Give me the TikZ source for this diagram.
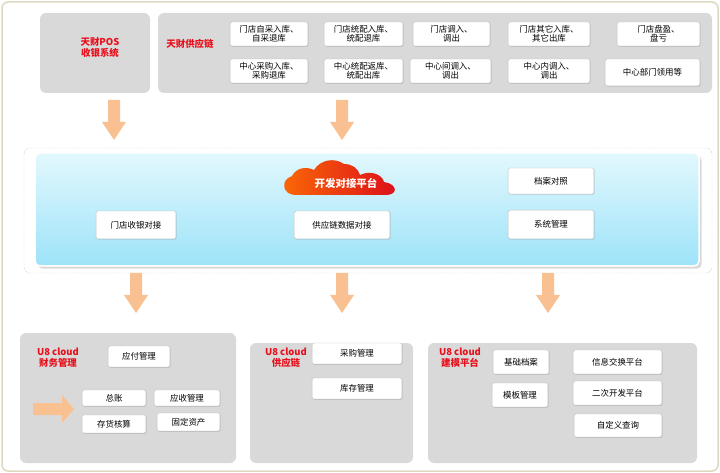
\documentclass[tikz,border=0pt]{standalone}
\usepackage{fontspec}
\setmainfont{Noto Sans CJK SC}
\usetikzlibrary{shadows}
\definecolor{frame}{HTML}{DDD8C0}
\definecolor{panel}{HTML}{D9D9D9}
\definecolor{arr}{HTML}{F9C191}
\definecolor{red}{HTML}{E8101C}
\definecolor{cyt}{HTML}{E2F8FD}
\definecolor{cyb}{HTML}{9DE3F9}
\begin{document}
\begin{tikzpicture}[x=1bp,y=-1bp,
  wb/.style={draw=gray!50,fill=white,rounded corners=1.5bp,drop shadow={opacity=0.25,shadow xshift=0.8bp,shadow yshift=-0.8bp},font=\fontsize{8.5}{9.5}\selectfont,align=center,inner sep=0pt},
  gp/.style={fill=panel,rounded corners=6bp},
  lab/.style={text=red,font=\fontsize{9.5}{11}\selectfont\bfseries,align=center},
  darr/.pic={\fill[arr] (-6,0)--(6,0)--(6,22)--(12,22)--(0,40)--(-12,22)--(-6,22)--cycle;}]
\useasboundingbox (0,0) rectangle (720,473);
\draw[frame,line width=1.5bp,rounded corners=6bp] (2,2) rectangle (718,471);
% top
\fill[gp] (40,13) rectangle (150,93);
\node[lab] (pos) at (100,47) {天财POS\\收银系统};
\fill[gp] (158,13) rectangle (712,93);
\node[lab] (tsc) at (190,44) {天财供应链};
\newcommand\bx[6]{\node[wb,minimum width=#3-#1,minimum height=#4-#2] (#5) at ({(#1+#3)/2},{(#2+#4)/2}) {#6};}
\bx{230}{22}{308}{46}{a1}{门店自采入库、\\自采退库}
\bx{324}{22}{403}{46}{a2}{门店统配入库、\\统配退库}
\bx{413}{22}{490}{46}{a3}{门店调入、\\调出}
\bx{508}{22}{590}{46}{a4}{门店其它入库、\\其它出库}
\bx{617}{22}{700}{46}{a5}{门店盘盈、\\盘亏}
\bx{230}{59}{308}{83}{b1}{中心采购入库、\\采购退库}
\bx{324}{59}{403}{83}{b2}{中心统配返库、\\统配出库}
\bx{410}{59}{491}{83}{b3}{中心间调入、\\调出}
\bx{508}{59}{590}{83}{b4}{中心内调入、\\调出}
\bx{605}{59}{700}{86}{b5}{中心部门领用等}
\pic at (114,100) {darr};
\pic at (342,100) {darr};
% middle
\draw[gray!70,densely dotted,rounded corners=6bp] (24,148) rectangle (712,273);
\shade[top color=cyt,bottom color=cyb,draw=white,line width=1.5bp,rounded corners=5bp,drop shadow={opacity=0.3}] (35,153) rectangle (699,266);
\shade[left color=orange!80!red,right color=red!95!black]
  (296,195) .. controls (282,195) and (280,180) .. (292,176)
  .. controls (296,168) and (306,166) .. (314,170)
  .. controls (320,160) and (334,157) .. (344,164)
  .. controls (352,164) and (358,168) .. (360,175)
  .. controls (370,170) and (382,174) .. (384,182)
  .. controls (398,184) and (398,195) .. (386,195) -- cycle;
\node[text=white,font=\fontsize{10.5}{12}\selectfont\bfseries] (clt) at (346,183) {开发对接平台};
\bx{96}{211}{176}{239}{m1}{门店收银对接}
\bx{294}{211}{390}{239}{m2}{供应链数据对接}
\bx{508}{168}{594}{194}{m3}{档案对照}
\bx{508}{210}{594}{239}{m4}{系统管理}
\pic at (136,273) {darr};
\pic at (342,273) {darr};
\pic at (548,273) {darr};
% bottom
\fill[gp] (20,333) rectangle (236,463);
\node[lab] (f) at (58,358) {U8 cloud\\财务管理};
\fill[arr] (33,403)--(62,403)--(62,395)--(74,409)--(62,423)--(62,415)--(33,415)--cycle;
\bx{108}{346}{170}{367}{f1}{应付管理}
\bx{82}{390}{146}{406}{f2}{总账}
\bx{154}{390}{220}{406}{f3}{应收管理}
\bx{82}{415}{146}{433}{f4}{存货核算}
\bx{157}{413}{220}{431}{f5}{固定资产}
\fill[gp] (250,343) rectangle (413,463);
\node[lab] (s) at (286,358) {U8 cloud\\供应链};
\bx{312}{343}{402}{364}{s1}{采购管理}
\bx{312}{378}{402}{399}{s2}{库存管理}
\fill[gp] (428,343) rectangle (697,463);
\node[lab] (j) at (460,358) {U8 cloud\\建模平台};
\bx{493}{350}{549}{374}{j1}{基础档案}
\bx{573}{350}{662}{374}{j2}{信息交换平台}
\bx{492}{383}{548}{407}{j3}{模板管理}
\bx{573}{381}{662}{405}{j4}{二次开发平台}
\bx{574}{414}{662}{437}{j5}{自定义查询}
\end{tikzpicture}
\end{document}
